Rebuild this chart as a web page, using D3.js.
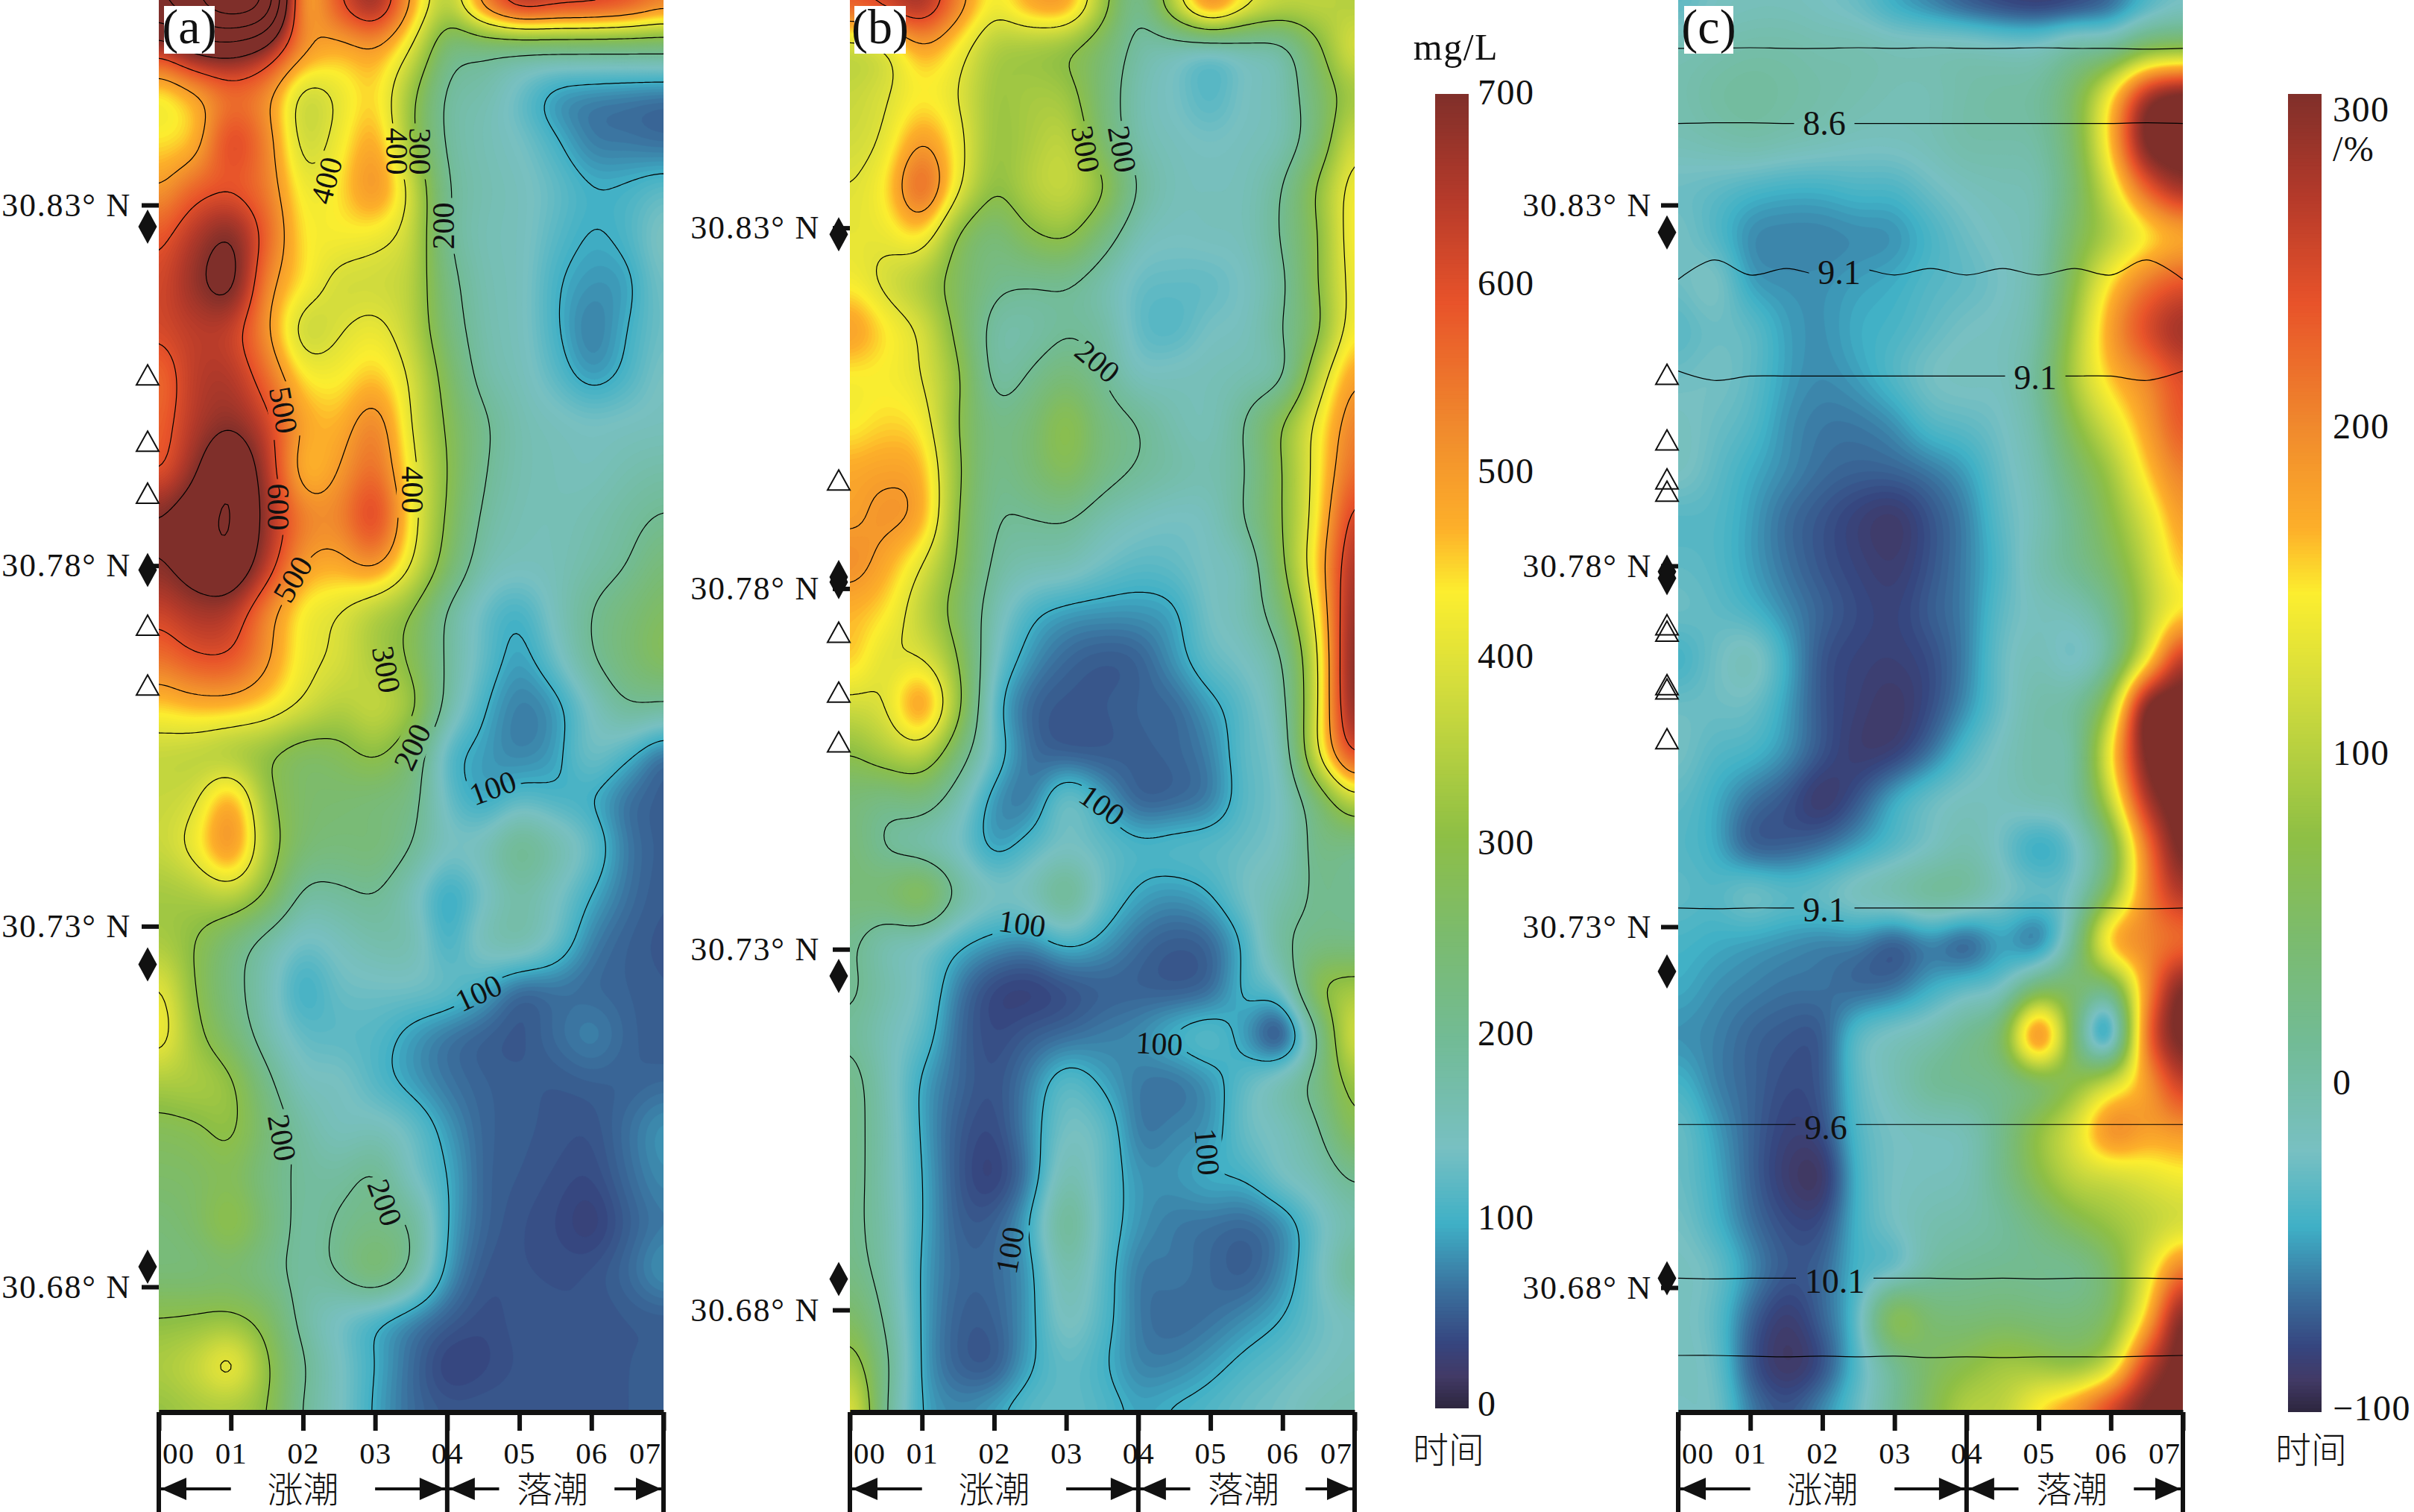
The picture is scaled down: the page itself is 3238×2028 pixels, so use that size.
<!DOCTYPE html>
<html><head><meta charset="utf-8">
<style>html,body{margin:0;padding:0;background:#fff}svg{display:block}</style>
<script src="https://cdn.jsdelivr.net/npm/d3@7/dist/d3.min.js"></script>
</head><body><svg id="c" width="3238" height="2028"></svg>
<script>
// half-hour columns, 31 rows top (north) to bottom (south)
const hours=[0,.5,1,1.5,2,2.5,3,3.5,4,4.5,5,5.5,6,6.5,7];
const hourTicks=[0,1,2,3,4,5,6,7];
const latTicks=[30.83,30.78,30.73,30.68];
const tssA=[
[900,1000,1100,1000,500,600,690,500,360,550,680,660,650,620,560],
[650,740,760,690,520,480,500,400,240,230,225,225,225,225,225],
[430,490,560,520,380,410,450,320,190,170,130,90,80,75,70],
[440,470,610,530,380,420,480,320,190,160,140,105,72,68,62],
[500,570,590,540,420,440,510,380,205,165,150,125,102,105,120],
[580,650,700,570,440,430,420,370,205,160,150,118,98,110,150],
[610,680,725,530,440,385,380,355,225,165,150,105,85,92,140],
[610,640,630,510,375,395,415,360,240,170,150,105,72,100,135],
[560,640,650,560,440,430,460,390,270,180,155,120,88,110,145],
[570,650,690,620,490,470,530,400,290,210,165,150,140,145,150],
[590,690,790,650,470,500,560,420,300,205,165,155,150,165,175],
[700,760,810,670,540,530,610,430,290,190,160,155,165,185,205],
[690,745,780,640,500,480,510,400,265,170,150,155,175,200,240],
[620,660,650,530,430,400,350,300,195,130,105,150,200,235,270],
[550,590,590,510,420,390,340,290,190,125,90,130,195,240,280],
[450,470,470,440,390,350,370,320,180,105,72,88,145,195,190],
[370,360,340,310,270,280,310,250,120,90,75,90,135,110,65],
[370,390,480,320,260,250,240,220,130,95,120,110,100,65,52],
[370,420,510,340,250,235,240,200,145,155,205,170,125,70,52],
[330,340,360,290,190,190,200,155,95,135,175,145,100,65,50],
[340,300,240,180,135,150,170,165,105,155,170,130,75,55,48],
[410,300,225,160,100,130,135,135,125,100,62,66,60,55,50],
[430,320,250,170,125,120,115,90,68,55,48,62,75,58,50],
[340,340,310,215,150,145,115,90,68,56,52,50,54,55,60],
[280,290,310,240,180,150,155,130,88,58,52,48,46,64,85],
[260,265,280,225,190,185,205,145,100,58,50,44,40,60,80],
[240,260,305,240,185,205,220,195,100,58,46,40,30,52,70],
[240,240,250,220,185,205,250,190,90,50,46,44,46,60,85],
[300,305,310,270,180,140,110,80,55,42,48,46,45,50,52],
[340,370,420,310,205,145,100,62,34,38,46,46,46,50,52],
[310,330,330,300,195,145,95,62,50,50,50,50,50,50,50]];
const tssB=[
[600,640,680,540,430,500,510,340,210,380,560,440,380,370,340],
[370,400,490,430,345,330,310,255,180,165,155,170,185,290,400],
[370,395,435,400,325,335,325,240,165,140,115,145,165,250,335],
[380,410,500,420,320,340,360,255,170,150,140,150,165,250,390],
[400,440,570,410,305,350,370,310,195,155,150,155,200,310,430],
[410,415,440,295,240,290,310,235,160,145,150,155,205,300,440],
[430,385,340,270,215,205,205,170,130,125,125,145,190,300,430],
[500,440,390,280,180,175,195,180,125,115,140,150,200,290,440],
[430,430,400,310,185,205,240,200,150,150,155,165,190,360,500],
[430,450,430,300,220,240,300,230,200,165,155,205,300,420,540],
[480,490,470,310,215,240,280,225,195,175,165,200,300,430,570],
[490,510,480,300,205,200,205,170,150,140,150,205,300,440,630],
[520,480,400,290,190,165,160,135,120,125,145,165,290,460,670],
[470,440,360,270,165,110,90,85,85,95,140,165,250,430,700],
[460,400,400,300,145,85,60,50,55,85,125,145,200,400,720],
[380,400,500,320,120,60,48,50,56,60,90,125,180,400,710],
[300,340,360,240,125,65,52,50,54,58,75,125,160,400,620],
[240,220,230,165,85,72,135,95,56,58,72,120,145,250,370],
[240,195,170,140,90,115,140,125,110,115,120,130,150,220,215],
[240,250,290,190,145,155,205,130,95,85,100,140,170,210,205],
[210,165,150,110,88,82,110,90,64,52,60,110,190,220,220],
[210,170,135,72,38,32,44,54,54,50,60,110,140,295,330],
[195,155,120,62,40,52,62,72,80,105,120,85,40,205,400],
[220,160,95,60,45,75,120,95,70,65,85,125,165,225,330],
[220,165,95,52,40,80,140,125,70,75,85,130,150,195,290],
[220,165,100,50,32,75,165,125,85,85,100,105,140,165,210],
[215,170,100,55,55,100,200,125,85,70,65,60,80,130,170],
[225,175,95,60,60,90,170,120,70,70,60,52,80,135,200],
[270,190,95,55,55,90,150,115,70,60,65,80,100,130,150],
[340,210,95,55,50,95,125,105,75,75,90,110,125,140,155],
[420,200,100,80,95,120,125,115,95,105,115,130,140,160,165]];
const pctC=[
[-30,-15,-10,-10,-15,-25,-45,-60,-75,-85,-90,-85,-70,-40,-20],
[-5,0,5,5,0,0,-5,-5,-5,-10,-10,10,15,60,70],
[0,10,15,10,5,0,-5,-5,5,10,15,60,160,300,340],
[-5,0,5,0,-5,-10,-10,-5,5,5,10,60,180,340,350],
[-20,-25,-33,-38,-38,-33,-33,-20,-10,-5,0,50,140,250,310],
[-15,-30,-52,-55,-55,-52,-50,-35,-20,-10,0,60,110,160,190],
[-20,-10,-45,-50,-50,-45,-40,-30,-25,-15,5,80,170,230,260],
[-30,-20,-25,-45,-50,-40,-35,-25,-15,-10,10,100,200,270,310],
[-20,-15,-25,-45,-52,-45,-30,-15,-10,-10,20,110,180,220,270],
[-10,-20,-30,-50,-58,-58,-50,-30,-25,-15,10,80,140,200,260],
[-10,-25,-40,-52,-62,-66,-65,-58,-45,-20,0,50,100,175,230],
[-30,-30,-45,-62,-72,-82,-88,-72,-55,-25,-5,30,80,140,205],
[-25,-30,-45,-60,-72,-80,-85,-72,-55,-30,0,25,60,120,185],
[-20,-25,-35,-52,-66,-76,-80,-68,-55,-25,-10,-5,30,110,170],
[-40,-20,-5,-40,-72,-80,-82,-75,-55,-20,-5,-20,20,150,300],
[-20,-20,-20,-45,-72,-82,-88,-75,-50,-20,5,15,100,340,350],
[-15,-30,-35,-50,-72,-85,-82,-60,-30,-10,5,10,160,340,350],
[-25,-40,-60,-72,-88,-70,-40,-20,-10,-10,0,10,120,300,350],
[-30,-40,-68,-68,-60,-45,-30,-15,0,-20,-45,-20,50,230,345],
[-25,-30,-15,-25,-20,-5,5,20,15,-10,-20,-10,80,220,300],
[-35,-40,-45,-50,-55,-55,-70,-55,-70,-45,-60,20,190,220,240],
[-40,-50,-55,-60,-60,-65,-60,-40,-25,-15,50,55,40,210,340],
[-50,-55,-65,-70,-70,-25,-10,0,25,60,240,45,-60,240,345],
[-35,-55,-65,-75,-70,-25,-5,20,25,30,50,80,130,200,290],
[-20,-45,-65,-80,-75,-30,-15,-10,-5,30,90,140,220,200,210],
[-20,-40,-65,-85,-90,-35,-15,-10,-5,30,80,120,130,145,160],
[-15,-35,-60,-75,-75,-35,-15,0,5,15,40,70,95,115,135],
[-10,-20,-50,-70,-65,-35,-25,10,20,25,25,25,60,140,240],
[-10,-25,-65,-85,-65,-25,85,50,45,50,45,45,70,180,340],
[-10,-20,-70,-90,-75,-30,20,60,80,100,95,85,130,280,345],
[-15,-15,-55,-70,-50,-20,20,70,115,120,175,220,290,340,345]];
// salinity isolines of panel (c): latitude at each half hour
const salinityLines=[
[30.8517,30.8517,30.8518,30.8517,30.8517,30.8518,30.8517,30.8518,30.8517,30.8517,30.8518,30.8517,30.8517,30.8516,30.8517],
[30.8413,30.8414,30.8414,30.8413,30.8413,30.8413,30.8413,30.8413,30.8413,30.8413,30.8413,30.8413,30.8413,30.8414,30.8413],
[30.8197,30.8224,30.8203,30.8212,30.8203,30.8212,30.8203,30.8212,30.8203,30.8212,30.8203,30.8212,30.8203,30.8224,30.8197],
[30.8070,30.8057,30.8063,30.8063,30.8063,30.8063,30.8063,30.8063,30.8063,30.8063,30.8063,30.8063,30.8063,30.8057,30.8070],
[30.7326,30.7325,30.7326,30.7326,30.7326,30.7326,30.7326,30.7326,30.7326,30.7326,30.7326,30.7326,30.7326,30.7325,30.7326],
[30.7026,30.7026,30.7026,30.7026,30.7026,30.7026,30.7026,30.7026,30.7026,30.7026,30.7026,30.7026,30.7026,30.7026,30.7026],
[30.6813,30.6812,30.6813,30.6813,30.6813,30.6813,30.6813,30.6813,30.6812,30.6813,30.6812,30.6813,30.6813,30.6813,30.6812],
[30.6706,30.6706,30.6705,30.6704,30.6705,30.6704,30.6705,30.6703,30.6704,30.6703,30.6704,30.6704,30.6704,30.6705,30.6706]];
const diamondsA=[30.8270,30.7794,30.7247,30.6828], trianglesA=[30.8064,30.7972,30.7900,30.7717,30.7634];
const diamondsB=[30.8291,30.7816,30.7809,30.7263,30.6843], trianglesB=[30.7950,30.7739,30.7656,30.7587];
const diamondsC=[30.8262,30.7792,30.7783,30.7238,30.6813], trianglesC=[30.8065,30.7974,30.7920,30.7903,30.7718,30.7709,30.7635,30.7629,30.7560];
const levelsAB=[100,200,300,400,500,600,700,800,900,1000];
const colorStops=[[0,"#2e2740"],[.023,"#423a66"],[.048,"#36457f"],[.087,"#3a6e9c"],[.139,"#3fb0c6"],[.197,"#78c0c2"],[.28,"#72bb95"],[.358,"#7bbb6e"],[.435,"#8ebf45"],[.55,"#d5dd3c"],[.62,"#fcee2f"],[.668,"#fdb02a"],[.745,"#f08a2d"],[.84,"#e8532a"],[.92,"#b53a2a"],[1,"#7f2f2a"]];
const labelsA=[["400",438,242,-75],["400",532,203,90],["300",563,203,90],["200",595,303,-90],["500",380,550,80],["600",373,680,90],["400",553,657,90],["500",393,777,-60],["300",518,898,80],["200",553,1002,-65],["100",661,1057,-20],["100",642,1332,-25],["200",378,1526,80],["200",516,1613,70]];
const labelsB=[["300",1456,200,80],["200",1505,200,80],["200",1472,485,40],["100",1478,1080,35],["100",1371,1239,8],["100",1555,1400,3],["100",1619,1545,85],["100",1355,1677,-80]];
const labelsC=[["8.6",2447,165,0],["9.1",2467,365,0],["9.1",2730,506,0],["9.1",2447,1220,0],["9.6",2449,1512,0],["10.1",2461,1718,0]];

const serif="'Liberation Serif','Times New Roman',serif", cjk="'Noto Sans CJK SC',sans-serif";
const svg=d3.select("#c");
const W=677,H=1894,UP=12;
const tScale=d3.scaleLinear().domain(colorStops.map(d=>d[0])).range(colorStops.map(d=>d[1])).interpolate(d3.interpolateRgb).clamp(true);

function cr(a,b,c,d,t){return 0.5*((2*b)+(-a+c)*t+(2*a-5*b+4*c-d)*t*t+(-a+3*b-3*c+d)*t*t*t);}
function upsample(g){
  const nr=g.length,nc=g[0].length,w=(nc-1)*UP+1,h=(nr-1)*UP+1,out=new Float64Array(w*h);
  const at=(r,c)=>g[Math.max(0,Math.min(nr-1,r))][Math.max(0,Math.min(nc-1,c))];
  for(let j=0;j<h;j++){const rf=j/UP,r=Math.min(nr-2,Math.floor(rf)),tr=rf-r;
    for(let i=0;i<w;i++){const cf=i/UP,c=Math.min(nc-2,Math.floor(cf)),tc=cf-c;
      const col=[-1,0,1,2].map(k=>cr(at(r+k,c-1),at(r+k,c),at(r+k,c+1),at(r+k,c+2),tc));
      out[j*w+i]=cr(col[0],col[1],col[2],col[3],tr);}}
  if(d3.blur2) d3.blur2({data:out,width:w,height:h},2.5);
  return {w,h,out};
}
function panel(o){
  const x=d3.scaleLinear().domain([0,7]).range([o.left,o.left+W]);
  const y=d3.scaleLinear().domain([30.83,30.68]).range(o.yr);
  const g=svg.append("g");
  const cid="clip"+o.id;
  svg.append("clipPath").attr("id",cid).append("rect").attr("x",o.left).attr("y",0).attr("width",W).attr("height",H);
  const u=upsample(o.grid);
  const proj=d3.geoTransform({point(px,py){this.stream.point(o.left+(px-.5)/(u.w-1)*W,(py-.5)/(u.h-1)*H);}});
  const path=d3.geoPath(proj);
  const color=v=>tScale(o.toT(v));
  const heat=g.append("g").attr("clip-path",`url(#${cid})`);
  heat.append("rect").attr("x",o.left).attr("y",0).attr("width",W).attr("height",H).attr("fill",color(o.bands[0]));
  const c=d3.contours().size([u.w,u.h]).smooth(true);
  heat.selectAll("path.band").data(o.bands.map(t=>c.contour(u.out,t))).join("path")
    .attr("d",path).attr("fill",d=>color(d.value)).attr("stroke",d=>color(d.value)).attr("stroke-width",.6);
  // mask that opens gaps for the line labels
  const mid="mask"+o.id;
  const m=svg.append("mask").attr("id",mid).attr("maskUnits","userSpaceOnUse").attr("x",0).attr("y",0).attr("width",3238).attr("height",2028);
  m.append("rect").attr("x",0).attr("y",0).attr("width",3238).attr("height",2028).attr("fill","#fff");
  m.selectAll("rect.g").data(o.labels).join("rect").attr("class","g")
    .attr("x",d=>-(d[0].length*o.fs*.5+12)/2).attr("y",-o.fs*.5).attr("width",d=>d[0].length*o.fs*.5+12).attr("height",o.fs)
    .attr("transform",d=>`translate(${d[1]},${d[2]}) rotate(${d[3]})`).attr("fill","#000");
  const lines=g.append("g").attr("clip-path",`url(#${cid})`).append("g").attr("mask",`url(#${mid})`)
    .attr("fill","none").attr("stroke","#000").attr("stroke-width",1.2);
  if(o.levels){
    lines.selectAll("path").data(o.levels.map(t=>c.contour(u.out,t))).join("path").attr("d",path);
  }
  if(o.isolines){
    const ln=d3.line().x((d,i)=>x(hours[i])).y(d=>y(d)).curve(d3.curveCatmullRom);
    lines.selectAll("path").data(o.isolines).join("path").attr("d",ln);
  }
  g.selectAll("text.cl").data(o.labels).join("text").attr("class","cl")
    .attr("transform",d=>`translate(${d[1]},${d[2]}) rotate(${d[3]})`)
    .attr("text-anchor","middle").attr("dominant-baseline","central")
    .attr("font-family",serif).attr("font-size",o.fs).attr("fill","#111").text(d=>d[0]);
  // panel tag
  g.append("rect").attr("x",o.left+o.tagDx).attr("y",8).attr("width",o.tagW).attr("height",64).attr("fill","#fff");
  g.append("text").attr("x",o.left+o.tagDx+o.tagW/2).attr("y",58).attr("text-anchor","middle")
    .attr("font-family",serif).attr("font-size",66).attr("fill","#111").text(o.tag);
  // latitude axis
  const ya=d3.axisLeft(y).tickValues(latTicks).tickSize(23).tickPadding(o.pad).tickFormat(d=>d.toFixed(2)+"° N");
  const ay=g.append("g").attr("transform",`translate(${o.left},0)`).call(ya);
  ay.select(".domain").remove();
  ay.selectAll("line").attr("stroke","#111").attr("stroke-width",6);
  ay.selectAll("text").attr("font-family",serif).attr("font-size",44).attr("letter-spacing",1.8).attr("fill","#111");
  // markers
  const mx=o.left-15;
  g.selectAll("path.dia").data(o.diamonds).join("path").attr("class","dia")
    .attr("d","M0,-23L12.5,0L0,23L-12.5,0Z").attr("transform",d=>`translate(${mx},${y(d)})`).attr("fill","#111");
  g.selectAll("path.tri").data(o.triangles).join("path").attr("class","tri")
    .attr("d","M0,-14L15,13L-15,13Z").attr("transform",d=>`translate(${mx},${y(d)})`).attr("fill","none").attr("stroke","#111").attr("stroke-width",2);
  // time axis
  const xa=d3.axisBottom(x).tickValues(hourTicks).tickSize(25).tickSizeOuter(0).tickFormat(d=>"0"+d);
  const ax=g.append("g").attr("transform",`translate(0,${H})`).call(xa);
  ax.select(".domain").attr("stroke","#111").attr("stroke-width",7);
  ax.selectAll("line").attr("stroke","#111").attr("stroke-width",6);
  ax.selectAll("text").attr("font-family",serif).attr("font-size",41).attr("letter-spacing",1).attr("fill","#111")
    .attr("y",69).attr("dy",0).attr("dx",d=>d===0?26:d===7?-25:0);
  g.selectAll("line.div").data([0,4,7]).join("line").attr("class","div")
    .attr("x1",d=>x(d)).attr("x2",d=>x(d)).attr("y1",H).attr("y2",2028).attr("stroke","#111").attr("stroke-width",6);
  // tide arrows
  const ar=1997;
  const arrows=[[1,0],[3,4],[4.72,4],[6.32,7]];
  g.selectAll("line.ar").data(arrows).join("line").attr("class","ar")
    .attr("x1",d=>x(d[0])).attr("x2",d=>x(d[1])).attr("y1",ar).attr("y2",ar).attr("stroke","#111").attr("stroke-width",4);
  g.selectAll("path.hd").data(arrows).join("path").attr("class","hd")
    .attr("d",d=>{const s=d[1]>d[0]?1:-1,e=x(d[1])-s*3;return `M${e},${ar}L${e-s*34},${ar-15}L${e-s*34},${ar+15}Z`;}).attr("fill","#111");
  g.selectAll("text.tide").data([["涨潮",2],["落潮",5.46]]).join("text").attr("class","tide")
    .attr("x",d=>x(d[1])).attr("y",2015).attr("text-anchor","middle").attr("font-family",cjk).attr("font-weight",300)
    .attr("font-size",48).attr("fill","#111").text(d=>d[0]);
}
const bandsAB=d3.range(0,705,5), bandsC=d3.range(-100,327,3);
const tAB=d3.scaleLinear().domain([0,700]).range([0,1]);
const tC=d3.scaleLinear().domain([-100,324.6]).range([0,1]);
panel({id:"a",tag:"(a)",left:213,yr:[275,1726],grid:tssA,bands:bandsAB,toT:tAB,levels:levelsAB,labels:labelsA,fs:42,tagDx:7,tagW:68,pad:14,diamonds:diamondsA,triangles:trianglesA});
panel({id:"b",tag:"(b)",left:1140,yr:[305.6,1757],grid:tssB,bands:bandsAB,toT:tAB,levels:levelsAB.slice(0,7),labels:labelsB,fs:42,tagDx:6,tagW:69,pad:17,diamonds:diamondsB,triangles:trianglesB});
panel({id:"c",tag:"(c)",left:2251,yr:[275,1727],grid:pctC,bands:bandsC,toT:tC,isolines:salinityLines,labels:labelsC,fs:46,tagDx:8,tagW:66,pad:12,diamonds:diamondsC,triangles:trianglesC});

// colour bars
function colorbar(o){
  const g=svg.append("g");
  const yy=d3.scaleLinear().domain([0,1]).range([o.y1,o.y0]);
  g.selectAll("rect").data(d3.range(0,1,1/350)).join("rect").attr("x",o.x).attr("width",45)
    .attr("y",d=>yy(d+1/350)).attr("height",(o.y1-o.y0)/350+1).attr("fill",d=>tScale(d));
  const ly=d3.scaleLinear().domain(o.ticks).range(o.labelY);
  const a=d3.axisRight(ly).tickValues(o.ticks).tickSize(0).tickPadding(o.lx-o.x-45).tickFormat(d=>d<0?"−"+(-d):d);
  const ag=g.append("g").attr("transform",`translate(${o.x+45},0)`).call(a);
  ag.select(".domain").remove();
  ag.selectAll("text").attr("font-family",serif).attr("font-size",48).attr("letter-spacing",1.5).attr("fill","#111");
}
colorbar({x:1925,y0:126,y1:1888,ticks:[0,100,200,300,400,500,600,700],labelY:[1883,1633,1386,1130,880,632,380,124],lx:1982});
colorbar({x:3069,y0:126,y1:1893,ticks:[-100,0,100,200,300],labelY:[1889,1452,1010,572,147],lx:3129});
const extras=[["mg/L",1953,80,50,serif,"middle"],["/%",3129,216,48,serif,"start"],["时间",1943,1962,48,cjk,"middle"],["时间",3100,1962,48,cjk,"middle"]];
svg.selectAll("text.ex").data(extras).join("text").attr("class","ex")
  .attr("x",d=>d[1]).attr("y",d=>d[2]).attr("font-size",d=>d[3]).attr("font-family",d=>d[4]).attr("text-anchor",d=>d[5])
  .attr("font-weight",d=>d[4]===cjk?300:400).attr("letter-spacing",d=>d[4]===serif?1.5:0).attr("fill","#111").text(d=>d[0]);
</script></body></html>
